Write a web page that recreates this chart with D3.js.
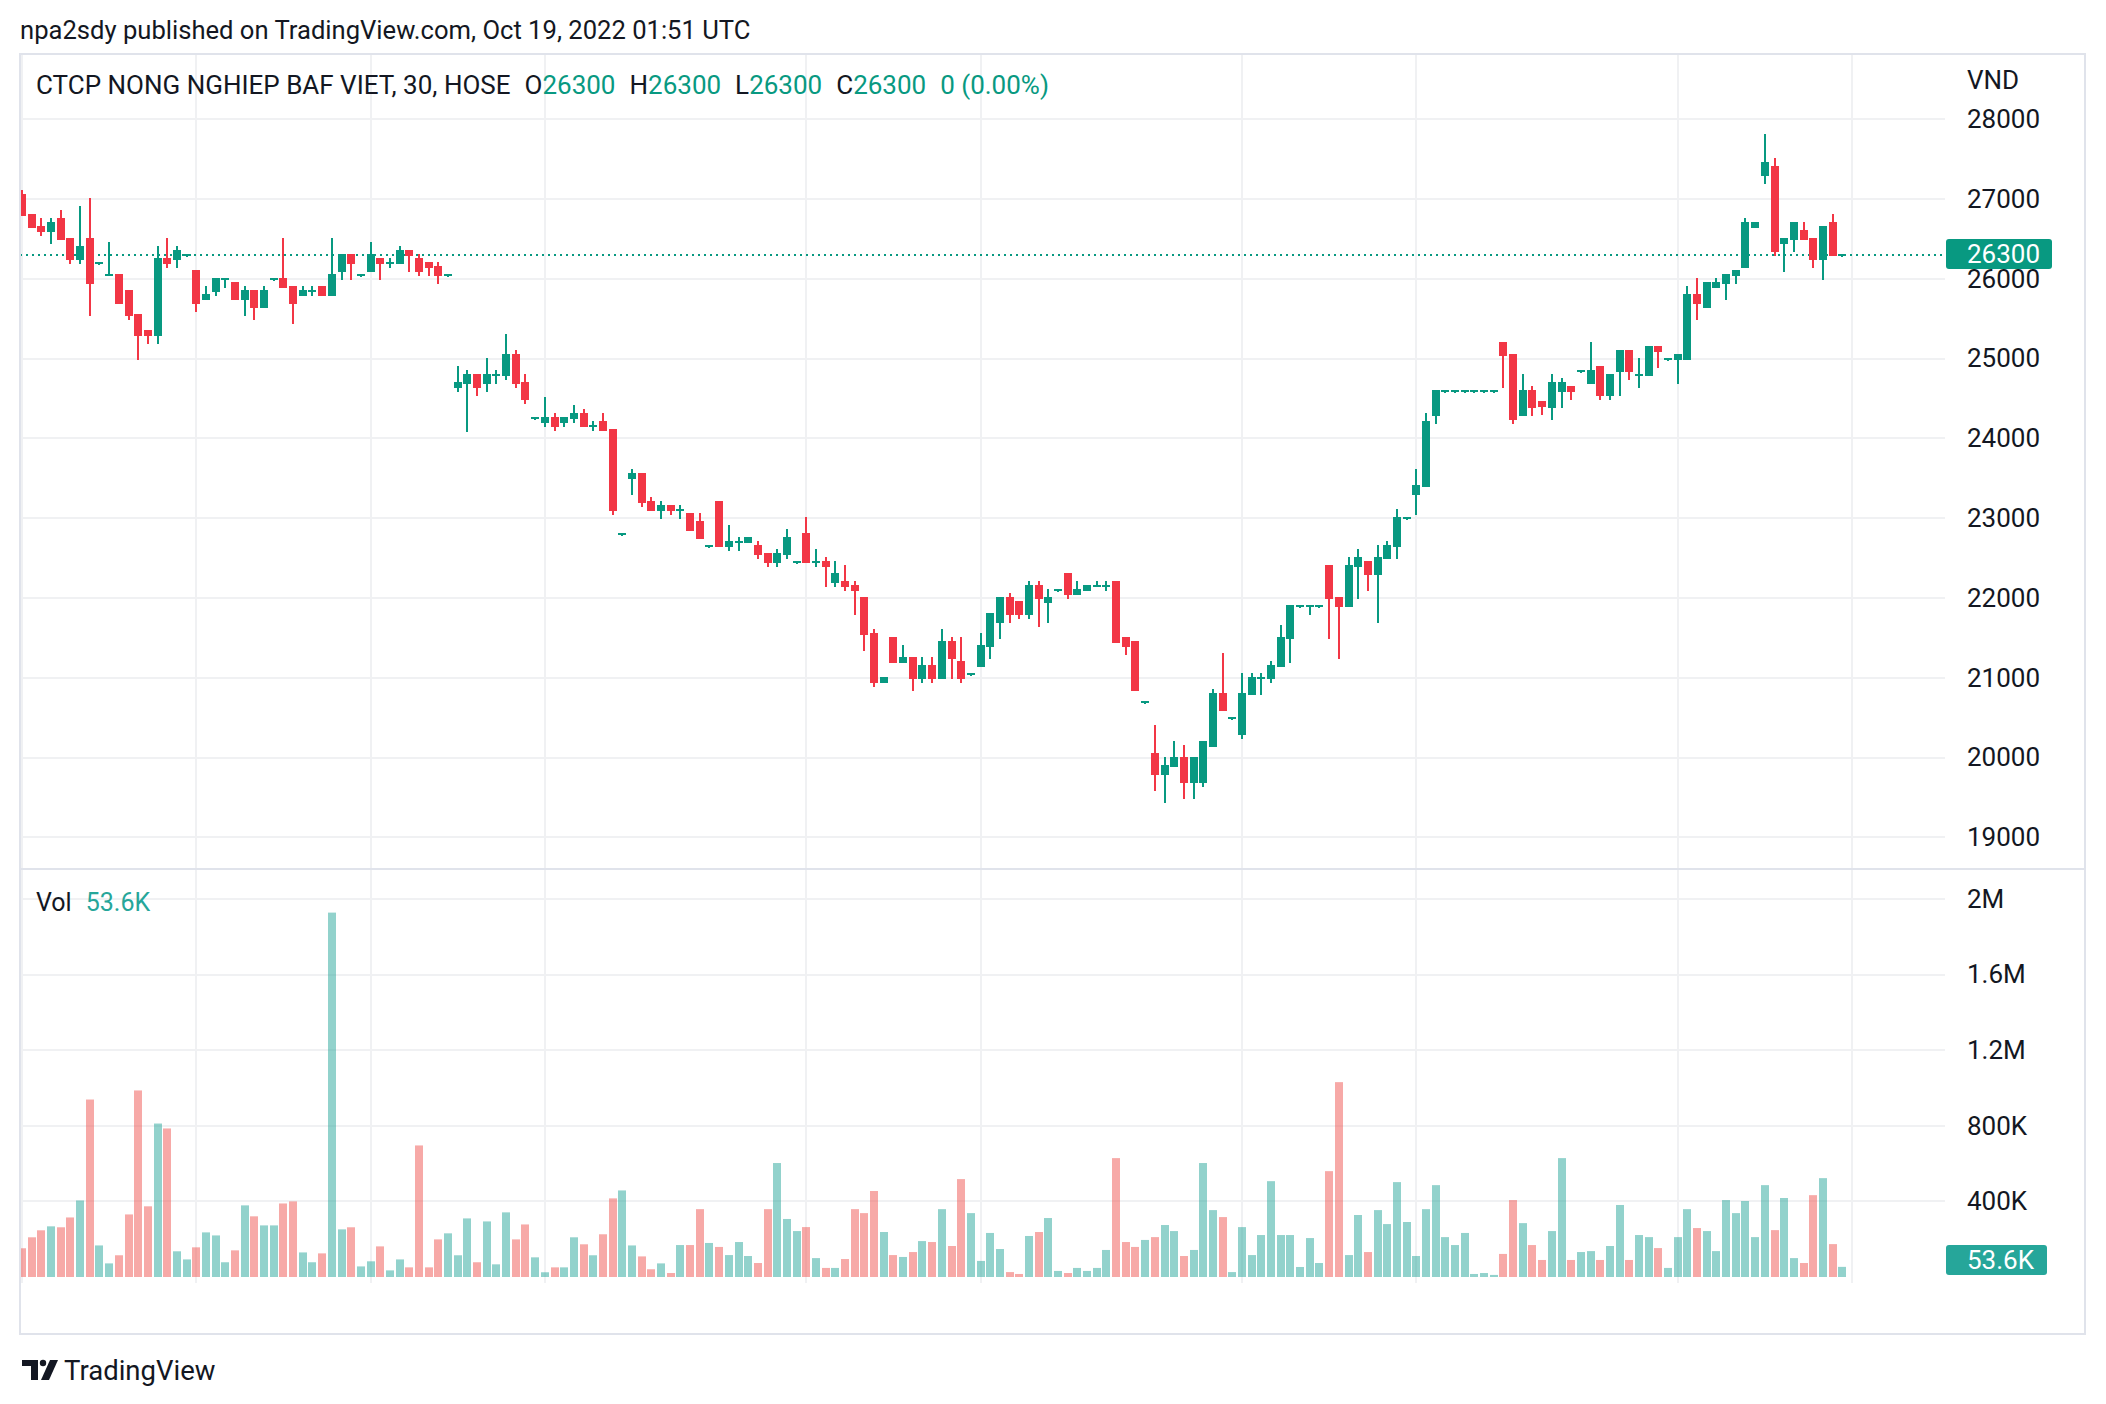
<!DOCTYPE html>
<html>
<head>
<meta charset="utf-8">
<script src="https://cdn.jsdelivr.net/npm/d3@7"></script>
<style>
    body { margin: 0; background: #ffffff; }
    svg { display: block; font-family: Roboto, 'Liberation Sans', sans-serif; }
</style>
</head>
<body>
<div id="chart"></div>
<script>
// 30 minute bars, 9 per session, Sep 19 - Oct 18 2022
var tickBars = [0, 18, 36, 54, 81, 99, 126, 144, 171, 189];
var tickLabels = ['19', '21', '23', '28', 'Oct', '5', '10', '12', '17', '19'];

var opens = [
    27050, 26800, 26650, 26600, 26750, 26500, 26250, 26500, 26200,
    26050, 26050, 25850, 25550, 25350, 25300, 26250, 26250, 26300,
    26100, 25750, 25850, 26000, 25950, 25750, 25850, 25650, 26000,
    26000, 25900, 25800, 25850, 25900, 25800, 26100, 26300, 26050,
    26100, 26250, 26200, 26200, 26350, 26250, 26200, 26150, 26050,
    24650, 24700, 24800, 24700, 24800, 24800, 25050, 24700, 24250,
    24200, 24250, 24200, 24250, 24300, 24150, 24200, 24100, 22800,
    23500, 23550, 23200, 23100, 23150, 23100, 23050, 22950, 22650,
    23200, 22650, 22700, 22700, 22650, 22550, 22450, 22550, 22450,
    22800, 22450, 22450, 22200, 22200, 22150, 22000, 21550, 20950,
    21500, 21200, 21250, 21000, 21150, 21000, 21450, 21200, 21050,
    21150, 21400, 21700, 22000, 21950, 21800, 22150, 21950, 22100,
    22300, 22050, 22100, 22150, 22150, 22200, 21500, 21450, 20700,
    20050, 19800, 19900, 20000, 19700, 19700, 20150, 20800, 20500,
    20300, 20800, 21000, 21000, 21150, 21500, 21900, 21900, 21900,
    22400, 22000, 21900, 22400, 22450, 22300, 22500, 22650, 23000,
    23300, 23400, 24300, 24600, 24600, 24600, 24600, 24600, 24600,
    25200, 25050, 24300, 24600, 24450, 24400, 24600, 24650, 24850,
    24700, 24900, 24550, 24850, 25100, 24800, 24800, 25150, 25000,
    25000, 25000, 25800, 25650, 25900, 25950, 26050, 26150, 26650,
    27300, 27400, 26450, 26500, 26600, 26500, 26250, 26700, 26300
];
var highs = [
    27100, 26800, 26750, 26750, 26850, 26500, 26900, 27000, 26200,
    26450, 26050, 25850, 25550, 25350, 26400, 26500, 26400, 26300,
    26100, 25900, 26000, 26000, 25950, 25900, 25850, 25900, 26000,
    26500, 25900, 25900, 25900, 25900, 26500, 26300, 26300, 26050,
    26450, 26250, 26250, 26400, 26350, 26300, 26200, 26200, 26050,
    24900, 24850, 24800, 25000, 24850, 25300, 25100, 24800, 24250,
    24500, 24300, 24250, 24400, 24350, 24200, 24300, 24100, 22800,
    23600, 23550, 23250, 23200, 23150, 23150, 23050, 23050, 22650,
    23200, 22900, 22750, 22750, 22700, 22550, 22600, 22850, 22450,
    23000, 22600, 22500, 22450, 22400, 22200, 22000, 21600, 21000,
    21500, 21400, 21250, 21250, 21250, 21600, 21500, 21500, 21050,
    21550, 21800, 22000, 22050, 21950, 22200, 22200, 22100, 22100,
    22300, 22200, 22150, 22200, 22200, 22200, 21500, 21450, 20700,
    20400, 20000, 20200, 20150, 20000, 20200, 20850, 21300, 20500,
    21050, 21050, 21050, 21200, 21650, 21900, 21900, 21900, 21900,
    22400, 22000, 22500, 22600, 22450, 22650, 22700, 23100, 23000,
    23600, 24300, 24600, 24600, 24600, 24600, 24600, 24600, 24600,
    25200, 25050, 24800, 24650, 24450, 24800, 24750, 24650, 24850,
    25200, 24900, 24800, 25100, 25100, 25000, 25150, 25150, 25000,
    25050, 25900, 26000, 25950, 26000, 26050, 26100, 26750, 26700,
    27800, 27500, 26500, 26700, 26700, 26500, 26650, 26800, 26300
];
var lows = [
    26800, 26650, 26550, 26450, 26500, 26200, 26200, 25550, 26200,
    26050, 25700, 25500, 25000, 25200, 25200, 26150, 26150, 26300,
    25600, 25750, 25800, 25900, 25750, 25550, 25500, 25650, 26000,
    25900, 25450, 25800, 25800, 25800, 25800, 26000, 26000, 26050,
    26100, 26000, 26150, 26200, 26100, 26050, 26050, 25950, 26050,
    24600, 24100, 24550, 24600, 24700, 24750, 24650, 24450, 24250,
    24150, 24100, 24150, 24200, 24150, 24100, 24100, 23050, 22800,
    23300, 23150, 23100, 23000, 23050, 23000, 22850, 22750, 22650,
    22650, 22600, 22600, 22700, 22500, 22400, 22400, 22500, 22450,
    22450, 22400, 22150, 22150, 22100, 21800, 21350, 20900, 20950,
    21200, 21200, 20850, 20950, 20950, 21000, 21000, 20950, 21050,
    21150, 21250, 21500, 21700, 21750, 21750, 21650, 21700, 22100,
    22000, 22050, 22100, 22150, 22100, 21450, 21300, 20850, 20700,
    19600, 19450, 19900, 19500, 19500, 19650, 20150, 20600, 20500,
    20250, 20800, 20800, 20950, 21150, 21200, 21900, 21800, 21900,
    21500, 21250, 21900, 22000, 22100, 21700, 22500, 22500, 23000,
    23050, 23400, 24200, 24600, 24600, 24600, 24600, 24600, 24600,
    24650, 24200, 24300, 24300, 24300, 24250, 24400, 24500, 24850,
    24700, 24500, 24500, 24550, 24750, 24650, 24800, 24900, 25000,
    24700, 25000, 25500, 25650, 25900, 25750, 25950, 26150, 26650,
    27200, 26300, 26100, 26350, 26500, 26150, 26000, 26300, 26300
];
var closes = [
    26800, 26650, 26600, 26700, 26500, 26250, 26400, 25950, 26200,
    26050, 25700, 25550, 25300, 25300, 26250, 26200, 26350, 26300,
    25700, 25800, 26000, 26000, 25750, 25850, 25650, 25850, 26000,
    25900, 25700, 25850, 25850, 25800, 26050, 26300, 26200, 26050,
    26300, 26200, 26200, 26350, 26300, 26100, 26150, 26050, 26050,
    24700, 24800, 24650, 24800, 24800, 25050, 24700, 24500, 24250,
    24250, 24150, 24250, 24300, 24150, 24150, 24100, 23100, 22800,
    23550, 23200, 23100, 23150, 23100, 23100, 22850, 22750, 22650,
    22650, 22700, 22700, 22750, 22550, 22450, 22550, 22750, 22450,
    22450, 22450, 22400, 22300, 22150, 22100, 21550, 20950, 21000,
    21200, 21250, 21000, 21150, 21000, 21450, 21250, 21000, 21050,
    21400, 21800, 22000, 21800, 21800, 22150, 22000, 22000, 22100,
    22050, 22100, 22150, 22150, 22150, 21450, 21400, 20850, 20700,
    19800, 19900, 20000, 19700, 20000, 20200, 20800, 20600, 20500,
    20800, 21000, 21000, 21150, 21500, 21900, 21900, 21900, 21900,
    22000, 21900, 22400, 22500, 22300, 22500, 22650, 23000, 23000,
    23400, 24200, 24600, 24600, 24600, 24600, 24600, 24600, 24600,
    25050, 24250, 24600, 24400, 24400, 24700, 24700, 24600, 24850,
    24850, 24550, 24800, 25100, 24850, 24800, 25150, 25100, 25000,
    25050, 25800, 25700, 25950, 25950, 26050, 26100, 26700, 26700,
    27450, 26350, 26500, 26700, 26500, 26250, 26650, 26300, 26300
];
var volumes = [
    152000, 210000, 247000, 268000, 263000, 315000, 405000, 939000, 167000,
    72000, 115000, 331000, 987000, 374000, 812000, 786000, 136000, 93000,
    157000, 236000, 220000, 78000, 141000, 379000, 321000, 273000, 273000,
    389000, 400000, 130000, 78000, 125000, 1928000, 252000, 263000, 56000,
    83000, 162000, 35000, 93000, 51000, 696000, 51000, 199000, 231000,
    115000, 310000, 78000, 294000, 67000, 342000, 199000, 278000, 104000,
    25000, 51000, 51000, 210000, 173000, 115000, 226000, 416000, 458000,
    167000, 109000, 41000, 72000, 21000, 169000, 169000, 359000, 180000,
    159000, 116000, 185000, 111000, 74000, 359000, 603000, 307000, 243000,
    264000, 100000, 48000, 48000, 95000, 359000, 338000, 455000, 238000,
    116000, 106000, 132000, 190000, 185000, 359000, 164000, 518000, 338000,
    85000, 233000, 148000, 26000, 16000, 217000, 238000, 312000, 32000,
    21000, 48000, 32000, 48000, 143000, 629000, 185000, 159000, 196000,
    211000, 275000, 243000, 111000, 143000, 603000, 354000, 317000, 26000,
    264000, 116000, 222000, 507000, 222000, 222000, 53000, 206000, 74000,
    560000, 1031000, 116000, 328000, 132000, 354000, 280000, 502000, 291000,
    111000, 359000, 486000, 211000, 169000, 233000, 16000, 21000, 11000,
    122000, 407000, 285000, 169000, 90000, 243000, 629000, 90000, 132000,
    137000, 90000, 164000, 381000, 90000, 222000, 211000, 153000, 48000,
    211000, 359000, 259000, 243000, 137000, 407000, 338000, 402000, 211000,
    486000, 248000, 418000, 100000, 74000, 433000, 523000, 174000, 53600
];

var priceTicks = [19000, 20000, 21000, 22000, 23000, 24000, 25000, 26000, 27000, 28000];
var volTicks = [400000, 800000, 1200000, 1600000, 2000000];
var volTickLabels = ['400K', '800K', '1.2M', '1.6M', '2M'];
var lastPrice = 26300;

var upColor = '#089981',
    downColor = '#f23645',
    volUp = '#26a69a',
    volDown = '#ef5350',
    textColor = '#131722',
    gridColor = '#f0f1f3',
    borderColor = '#e0e3eb';

function drawChart() {
    var W = 2106, H = 1404;
    var frame = {left: 20, top: 54, right: 2085, bottom: 1334},
        plotRight = 1945,
        paneSplit = 869,
        volBottom = 1277;

    var x = d3.scaleLinear().domain([0, 189]).range([22, 1852]);
    var y = d3.scaleLinear().domain([19000, 28000]).range([837.4, 119.2]);
    var yv = d3.scaleLinear().domain([0, 2000000]).range([volBottom, 899]);

    var svg = d3.select('#chart')
        .append('svg')
        .attr('width', W)
        .attr('height', H);

    svg.append('rect').attr('width', W).attr('height', H).attr('fill', '#ffffff');

    svg.append('defs').append('clipPath')
        .attr('id', 'plotclip')
        .append('rect')
        .attr('x', frame.left + 1).attr('y', frame.top)
        .attr('width', plotRight - frame.left - 1).attr('height', volBottom + 40 - frame.top);

    svg.append('text')
        .attr('x', 20)
        .attr('y', 39)
        .attr('fill', textColor)
        .style('font-size', '25.6px')
        .text('npa2sdy published on TradingView.com, Oct 19, 2022 01:51 UTC');

    // grid
    var grid = svg.append('g').attr('clip-path', 'url(#plotclip)');
    grid.selectAll('.vgrid')
        .data(tickBars)
        .enter().append('line')
        .attr('x1', function (d) { return Math.round(x(d)); })
        .attr('x2', function (d) { return Math.round(x(d)); })
        .attr('y1', frame.top)
        .attr('y2', volBottom + 6)
        .attr('stroke', gridColor)
        .attr('stroke-width', 2);
    grid.selectAll('.pgrid')
        .data(priceTicks)
        .enter().append('line')
        .attr('x1', frame.left)
        .attr('x2', plotRight)
        .attr('y1', function (d) { return Math.round(y(d)); })
        .attr('y2', function (d) { return Math.round(y(d)); })
        .attr('stroke', gridColor)
        .attr('stroke-width', 2);
    grid.selectAll('.vgrid2')
        .data(volTicks)
        .enter().append('line')
        .attr('x1', frame.left)
        .attr('x2', plotRight)
        .attr('y1', function (d) { return Math.round(yv(d)); })
        .attr('y2', function (d) { return Math.round(yv(d)); })
        .attr('stroke', gridColor)
        .attr('stroke-width', 2);

    // frame + pane separator
    svg.append('rect')
        .attr('x', frame.left)
        .attr('y', frame.top)
        .attr('width', frame.right - frame.left)
        .attr('height', frame.bottom - frame.top)
        .attr('fill', 'none')
        .attr('stroke', borderColor)
        .attr('stroke-width', 2);
    svg.append('line')
        .attr('x1', frame.left).attr('x2', frame.right)
        .attr('y1', paneSplit).attr('y2', paneSplit)
        .attr('stroke', borderColor)
        .attr('stroke-width', 2);

    var data = opens.map(function (o, i) {
        return {i: i, o: o, h: highs[i], l: lows[i], c: closes[i], v: volumes[i]};
    });

    // volume bars
    var plot = svg.append('g').attr('clip-path', 'url(#plotclip)');
    plot.selectAll('.vol')
        .data(data)
        .enter().append('rect')
        .attr('x', function (d) { return Math.round(x(d.i)) - 4; })
        .attr('y', function (d) { return yv(d.v); })
        .attr('width', 8)
        .attr('height', function (d) { return volBottom - yv(d.v); })
        .attr('fill', function (d) { return d.c >= d.o ? volUp : volDown; })
        .attr('fill-opacity', 0.5);

    // last price line
    plot.append('line')
        .attr('x1', frame.left)
        .attr('x2', plotRight)
        .attr('y1', Math.round(y(lastPrice)))
        .attr('y2', Math.round(y(lastPrice)))
        .attr('stroke', upColor)
        .attr('stroke-width', 2)
        .attr('stroke-dasharray', '2,4');

    // candles
    var candles = plot.selectAll('.candle')
        .data(data)
        .enter().append('g')
        .attr('fill', function (d) { return d.c >= d.o ? upColor : downColor; })
        .attr('shape-rendering', 'crispEdges');
    candles.append('rect')
        .attr('x', function (d) { return Math.round(x(d.i)) - 1; })
        .attr('y', function (d) { return Math.round(y(d.h)) - 1; })
        .attr('width', 2)
        .attr('height', function (d) { return Math.max(3, Math.round(y(d.l) - y(d.h)) + 2); });
    candles.append('rect')
        .attr('x', function (d) { return Math.round(x(d.i)) - 4; })
        .attr('y', function (d) { return Math.round(y(Math.max(d.o, d.c))) - 1; })
        .attr('width', 8)
        .attr('height', function (d) { return Math.max(2, Math.round(Math.abs(y(d.o) - y(d.c))) + 2); });

    // price axis
    var pAxis = svg.append('g')
        .attr('transform', 'translate(1967,0)')
        .call(d3.axisRight(y).tickValues(priceTicks).tickSize(0).tickPadding(0).tickFormat(d3.format('d')));
    var vAxis = svg.append('g')
        .attr('transform', 'translate(1967,0)')
        .call(d3.axisRight(yv).tickValues(volTicks).tickSize(0).tickPadding(0).tickFormat(function (d, i) { return volTickLabels[i]; }));
    [pAxis, vAxis].forEach(function (a) {
        a.select('.domain').remove();
        a.selectAll('text')
            .attr('fill', textColor)
            .style('font-size', '26px')
            .style('font-family', 'Roboto, sans-serif');
    });
    svg.append('text')
        .attr('x', 1967).attr('y', 80).attr('dy', '0.35em')
        .attr('fill', textColor)
        .style('font-size', '26px')
        .text('VND');

    // badges
    svg.append('rect')
        .attr('x', 1946).attr('y', Math.round(y(lastPrice)) - 16)
        .attr('width', 106).attr('height', 30).attr('rx', 3)
        .attr('fill', upColor);
    svg.append('text')
        .attr('x', 1967).attr('y', y(lastPrice) - 1).attr('dy', '0.35em')
        .attr('fill', '#ffffff')
        .style('font-size', '26px')
        .text(d3.format('d')(lastPrice));
    svg.append('rect')
        .attr('x', 1946).attr('y', Math.round(yv(volumes[188])) - 22)
        .attr('width', 101).attr('height', 30).attr('rx', 3)
        .attr('fill', volUp);
    svg.append('text')
        .attr('x', 1967).attr('y', yv(volumes[188]) - 7).attr('dy', '0.35em')
        .attr('fill', '#ffffff')
        .style('font-size', '26px')
        .text('53.6K');

    // time axis
    var tAxis = svg.append('g')
        .attr('clip-path', 'url(#plotclip)')
        .attr('transform', 'translate(0,1290)')
        .call(d3.axisBottom(x).tickValues(tickBars).tickSize(0).tickPadding(0).tickFormat(function (d, i) { return tickLabels[i]; }));
    tAxis.select('.domain').remove();
    tAxis.selectAll('text')
        .attr('fill', textColor)
        .style('font-size', '26px')
        .style('font-family', 'Roboto, sans-serif')
        .style('font-weight', function (d, i) { return tickLabels[i] === 'Oct' ? 'bold' : 'normal'; });

    // legends
    var leg = svg.append('text')
        .attr('x', 36).attr('y', 85).attr('dy', '0.35em')
        .style('font-size', '26px')
        .attr('fill', textColor);
    leg.append('tspan').text('CTCP NONG NGHIEP BAF VIET, 30, HOSE');
    [['O', lastPrice], ['H', lastPrice], ['L', lastPrice], ['C', lastPrice]].forEach(function (p) {
        leg.append('tspan').attr('dx', 14).text(p[0]);
        leg.append('tspan').attr('fill', upColor).text(p[1]);
    });
    leg.append('tspan').attr('dx', 14).attr('fill', upColor).text('0 (0.00%)');

    var vleg = svg.append('text')
        .attr('x', 36).attr('y', 902).attr('dy', '0.35em')
        .style('font-size', '25px')
        .attr('fill', textColor);
    vleg.append('tspan').text('Vol');
    vleg.append('tspan').attr('dx', 14).attr('fill', volUp).text('53.6K');

    // TradingView mark
    var logo = svg.append('g').attr('fill', textColor);
    logo.append('path').attr('d', 'M22,1360 h16 v20 h-7 v-14 h-9 z');
    logo.append('circle').attr('cx', 43).attr('cy', 1363).attr('r', 3.2);
    logo.append('path').attr('d', 'M50,1360 h8 l-9,20 h-8 z');
    logo.append('text')
        .attr('x', 64).attr('y', 1370).attr('dy', '0.35em')
        .style('font-size', '27.5px')
        .text('TradingView');
}

drawChart();
</script>
</body>
</html>
